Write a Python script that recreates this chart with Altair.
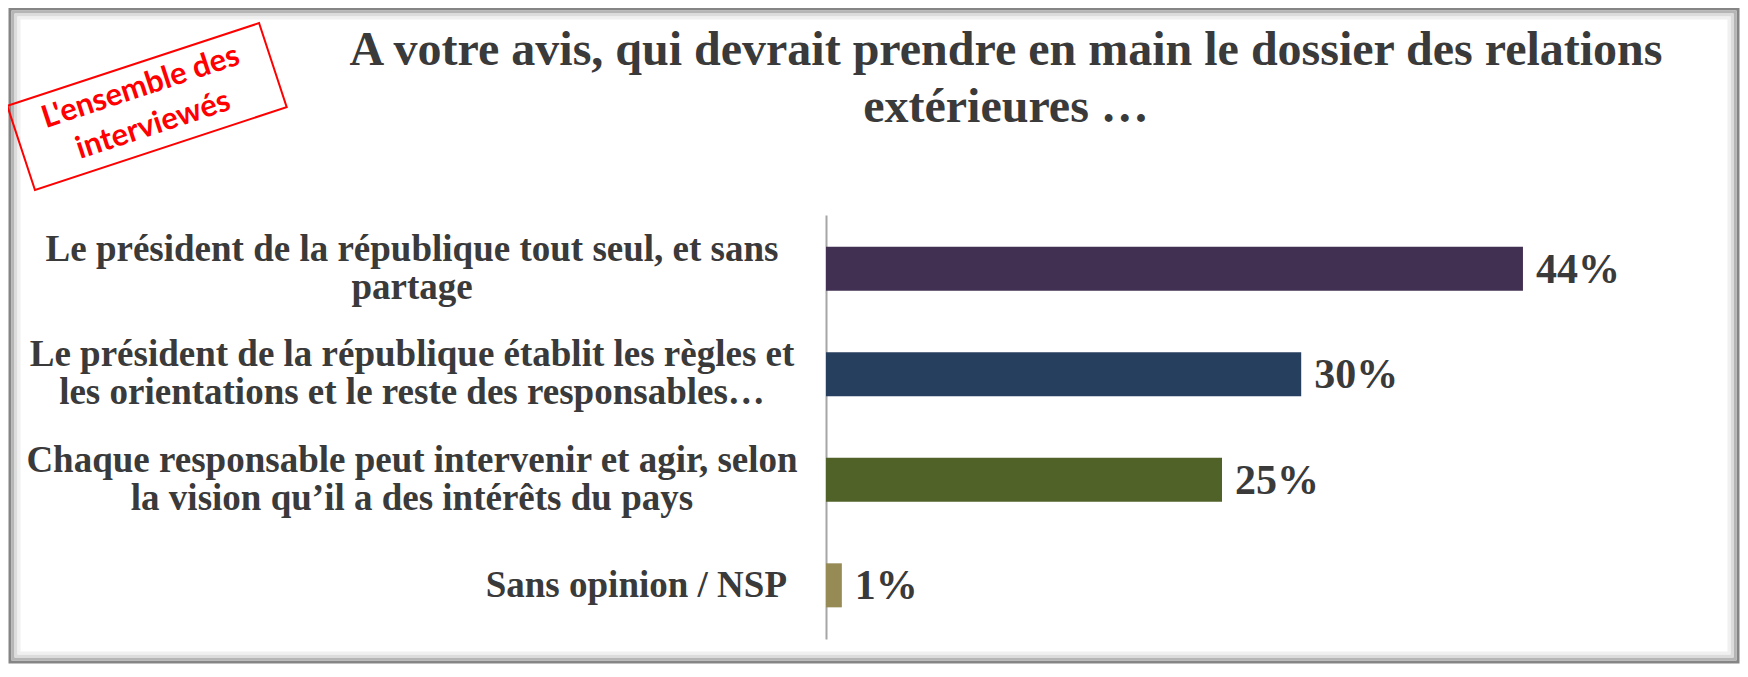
import altair as alt
import pandas as pd

# ---- data ----
categories = [
    "Le président de la république tout seul, et sans\npartage",
    "Le président de la république établit les règles et\nles orientations et le reste des responsables…",
    "Chaque responsable peut intervenir et agir, selon\nla vision qu’il a  des intérêts du pays",
    "Sans opinion / NSP",
]
values = [44, 30, 25, 1]
value_labels = ["44%", "30%", "25%", "1%"]
bar_colors = ["#413052", "#263f5f", "#506228", "#968a55"]
centered = [True, True, True, False]
title_lines = ["A votre avis, qui devrait prendre en main le dossier des relations",
               "extérieures …"]
stamp_lines = ["L'ensemble des", "interviewés"]

df = pd.DataFrame({"cat": categories, "value": values,
                   "label": value_labels, "centered": centered})
one = pd.DataFrame({"k": [0]})

W, H = 792, 424
TXT = "#3a3a3a"
SERIF = "Liberation Serif"

y = alt.Y("cat:N", sort=None,
          scale=alt.Scale(domain=categories, paddingInner=0.583, paddingOuter=0.30),
          axis=alt.Axis(labels=False, ticks=False, title=None, grid=False,
                        domainColor="#a6a6a6", domainWidth=2))
x = alt.X("value:Q", axis=None, scale=alt.Scale(domain=[0, 50]))

bars = alt.Chart(df).mark_bar().encode(
    x=x, y=y,
    color=alt.Color("cat:N", sort=None,
                    scale=alt.Scale(domain=categories, range=bar_colors), legend=None),
)

vals = alt.Chart(df).mark_text(
    align="left", baseline="middle", dx=13, dy=1, fontSize=42, font=SERIF,
    fontWeight="bold", color=TXT,
).encode(x=x, y=y, text="label:N")

lab_c = alt.Chart(df).transform_filter("datum.centered").mark_text(
    align="center", baseline="middle", lineBreak="\n", lineHeight=38, dy=-19,
    fontSize=37, font=SERIF, fontWeight="bold", color=TXT,
).encode(x=alt.value(-414), y=y, text="cat:N")

lab_r = alt.Chart(df).transform_filter("!datum.centered").mark_text(
    align="right", baseline="middle", lineBreak="\n", lineHeight=38, dy=1,
    fontSize=37, font=SERIF, fontWeight="bold", color=TXT,
).encode(x=alt.value(-39), y=y, text="cat:N")

title = alt.Chart(pd.DataFrame({"t": ["\n".join(title_lines)]})).mark_text(
    align="center", baseline="alphabetic", lineBreak="\n", lineHeight=57,
    fontSize=48, font=SERIF, fontWeight="bold", color=TXT,
).encode(x=alt.value(180), y=alt.value(-150), text="t:N")

# frame with soft shadow
frames = []
for inset, col, sw in [(0, "#858585", 3), (3, "#b5b5b5", 3), (6, "#dcdcdc", 3), (9, "#f0f0f0", 3)]:
    frames.append(alt.Chart(one).mark_rect(
        fillOpacity=0, stroke=col, strokeWidth=sw,
    ).encode(x=alt.value(-816 + inset), x2=alt.value(912 - inset),
             y=alt.value(-206 + inset), y2=alt.value(447 - inset)))

rect_path = "M-1,-0.334L1,-0.334L1,0.334L-1,0.334Z"
stamp_box = alt.Chart(one).mark_point(
    shape=rect_path, size=265 * 265, angle=341.8, filled=False,
    stroke="#ff0000", strokeWidth=2, opacity=1,
).encode(x=alt.value(-679), y=alt.value(-108.5))

stamp_text = alt.Chart(pd.DataFrame({"t": ["\n".join(stamp_lines)]})).mark_text(
    angle=341.8, align="center", baseline="middle", lineBreak="\n", lineHeight=40,
    dy=-20, fontSize=31, font="Lato", fontWeight="bold", color="#ff0000",
).encode(x=alt.value(-679), y=alt.value(-108.5), text="t:N")

chart = alt.layer(
    *frames, bars, vals, lab_c, lab_r, title, stamp_box, stamp_text
).properties(
    width=W, height=H,
    autosize=alt.AutoSizeParams(type="none"),
    padding={"left": 818, "top": 207, "right": 122, "bottom": 25},
    background="white",
).configure_view(strokeOpacity=0)

chart.save("out.html", embed_options={"renderer": "svg", "actions": False})
